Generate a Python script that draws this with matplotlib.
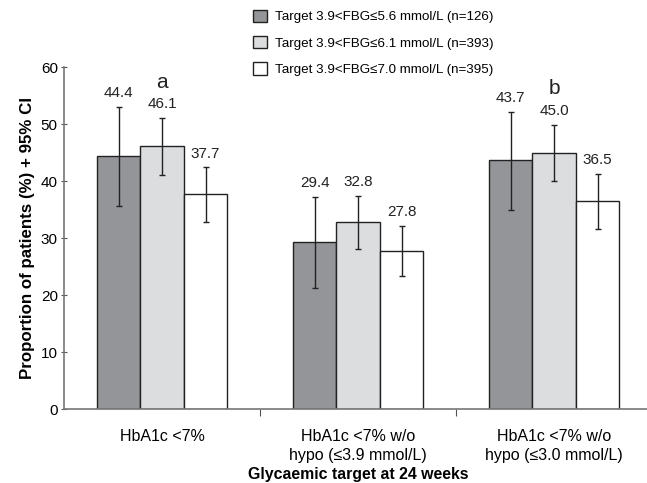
import matplotlib.pyplot as plt
import numpy as np

plt.rcParams['font.family'] = ['Liberation Sans', 'DejaVu Sans']

categories = ['HbA1c <7%', 'HbA1c <7% w/o\nhypo (≤3.9 mmol/L)', 'HbA1c <7% w/o\nhypo (≤3.0 mmol/L)']
series_labels = ['Target 3.9<FBG≤5.6 mmol/L (n=126)',
                 'Target 3.9<FBG≤6.1 mmol/L (n=393)',
                 'Target 3.9<FBG≤7.0 mmol/L (n=395)']
means = [[44.4, 29.4, 43.7],
         [46.1, 32.8, 45.0],
         [37.7, 27.8, 36.5]]
ci_low = [[35.7, 21.3, 34.9],
          [41.1, 28.1, 40.0],
          [32.8, 23.3, 31.6]]
ci_high = [[53.0, 37.2, 52.2],
           [51.0, 37.4, 49.9],
           [42.4, 32.2, 41.2]]
letters = {(1, 0): 'a', (1, 2): 'b'}
colors = ['#939598', '#dcdddf', '#ffffff']

fig = plt.figure(figsize=(6.47, 4.83), dpi=100)
ax = fig.add_axes([0.099, 0.153, 0.909, 0.708])

x = np.arange(len(categories))
width = 0.222
for i in range(3):
    pos = x + (i - 1) * width
    m = np.array(means[i])
    lo = m - np.array(ci_low[i])
    hi = np.array(ci_high[i]) - m
    ax.bar(pos, m, width, color=colors[i], edgecolor='#222222', linewidth=1,
           label=series_labels[i], zorder=2)
    ax.errorbar(pos, m, yerr=[lo, hi], fmt='none', ecolor='#222222',
                elinewidth=1, capsize=2, capthick=1, zorder=3)
    for j in range(3):
        ax.annotate(f'{means[i][j]:.1f}', (pos[j], ci_high[i][j]), xytext=(0, 5),
                    textcoords='offset points', ha='center', va='bottom', fontsize=11,
                    color='#222222')
        if (i, j) in letters:
            ax.annotate(letters[(i, j)], (pos[j], ci_high[i][j]), xytext=(0, 19),
                        textcoords='offset points', ha='center', va='bottom', fontsize=15,
                        color='#222222')

ax.set_xlim(-0.5, 2.5)
ax.set_ylim(0, 60)
ax.set_yticks(range(0, 61, 10))
ax.set_xticks([0.5, 1.5])
ax.set_xticklabels([])
ax.set_xticks(x, minor=True)
ax.set_xticklabels(categories, minor=True, fontsize=11.5, linespacing=1.35)
ax.tick_params(axis='x', which='minor', length=0, pad=14)
ax.tick_params(axis='x', which='major', length=5, direction='out', color='#555555')
ax.tick_params(axis='y', length=5, direction='inout', color='#555555', labelsize=11, pad=2)

for s in ['top', 'right']:
    ax.spines[s].set_visible(False)
for s in ['left', 'bottom']:
    ax.spines[s].set_color('#777777')
    ax.spines[s].set_linewidth(1.2)

ax.set_ylabel('Proportion of patients (%) + 95% CI', fontsize=12.2, fontweight='bold', labelpad=4)
ax.set_xlabel('Glycaemic target at 24 weeks', fontsize=11.4, fontweight='bold', labelpad=3)

fig.legend(loc='upper left', bbox_to_anchor=(0.372, 1.005), frameon=False, fontsize=9.6,
           handlelength=1.05, handleheight=1.05, handletextpad=0.6, labelspacing=0.95)

plt.savefig('out.png', dpi=100)
